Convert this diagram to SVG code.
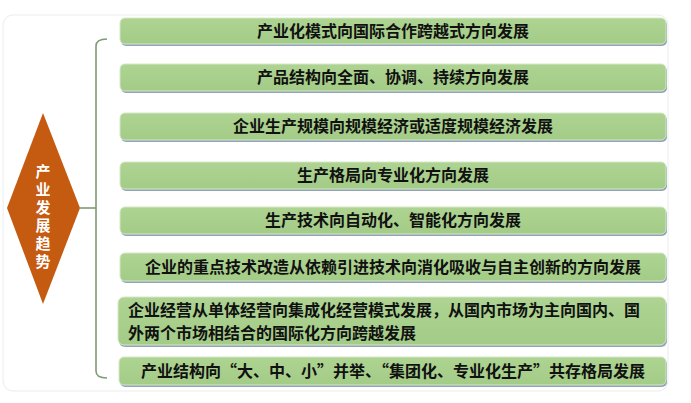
<svg xmlns="http://www.w3.org/2000/svg" width="691" height="403" viewBox="0 0 691 403">
<defs>
<linearGradient id="g" x1="0" y1="0" x2="0" y2="1">
<stop offset="0" stop-color="#aed392"/>
<stop offset="1" stop-color="#a3cc87"/>
</linearGradient>
<style>
.sh{fill:#93a3ba;}
.bx{fill:url(#g);stroke:#d3e8c4;stroke-width:1;}
.t{font-family:"Noto Sans CJK SC","Liberation Sans",sans-serif;font-weight:bold;font-size:16px;fill:#111;}
.c{text-anchor:middle;}
.d{font-family:"Noto Sans CJK SC","Liberation Sans",sans-serif;font-weight:bold;font-size:15px;fill:#fff;text-anchor:middle;writing-mode:vertical-rl;letter-spacing:3px;}
</style>
</defs>
<rect width="691" height="403" fill="#fff"/>
<rect x="3" y="15" width="665" height="376" rx="10" fill="none" stroke="#ececec" stroke-width="1"/>
<g id="connectors" fill="none" stroke="#7f9b72" stroke-width="1.6">
<path d="M107,39 Q96,39 96,46 L96,371 Q96,378 107,378"/>
<path d="M80,208 L96,208"/>
</g>
<g id="center">
<polygon points="43,113 80,208 43,304 7,208" fill="#c55a11"/>
<text class="d" x="43" y="218">产业发展趋势</text>
</g>
<g id="n1"><rect class="sh" x="121" y="20" width="546" height="26" rx="5"/><rect class="bx" x="120" y="18" width="546" height="26" rx="5"/><text class="t c" x="393" y="37">产业化模式向国际合作跨越式方向发展</text></g>
<g id="n2"><rect class="sh" x="121" y="66" width="546" height="27" rx="5"/><rect class="bx" x="120" y="64" width="546" height="27" rx="5"/><text class="t c" x="393" y="83">产品结构向全面、协调、持续方向发展</text></g>
<g id="n3"><rect class="sh" x="121" y="115" width="546" height="27" rx="5"/><rect class="bx" x="120" y="113" width="546" height="27" rx="5"/><text class="t c" x="393" y="132">企业生产规模向规模经济或适度规模经济发展</text></g>
<g id="n4"><rect class="sh" x="121" y="164" width="546" height="27" rx="5"/><rect class="bx" x="120" y="162" width="546" height="27" rx="5"/><text class="t c" x="393" y="181">生产格局向专业化方向发展</text></g>
<g id="n5"><rect class="sh" x="121" y="209" width="546" height="27" rx="5"/><rect class="bx" x="120" y="207" width="546" height="27" rx="5"/><text class="t c" x="393" y="226">生产技术向自动化、智能化方向发展</text></g>
<g id="n6"><rect class="sh" x="121" y="255" width="546" height="28" rx="5"/><rect class="bx" x="120" y="253" width="546" height="28" rx="5"/><text class="t c" x="393" y="273">企业的重点技术改造从依赖引进技术向消化吸收与自主创新的方向发展</text></g>
<g id="n7"><rect class="sh" x="119" y="299" width="548" height="48" rx="6"/><rect class="bx" x="118" y="297" width="548" height="48" rx="6"/><text class="t" x="128" y="316">企业经营从单体经营向集成化经营模式发展，从国内市场为主向国内、国</text><text class="t" x="128" y="339">外两个市场相结合的国际化方向跨越发展</text></g>
<g id="n8"><rect class="sh" x="120" y="359" width="547" height="28" rx="5"/><rect class="bx" x="119" y="357" width="547" height="28" rx="5"/><text class="t c" x="393" y="377">产业结构向“大、中、小”并举、“集团化、专业化生产”共存格局发展</text></g>
</svg>
